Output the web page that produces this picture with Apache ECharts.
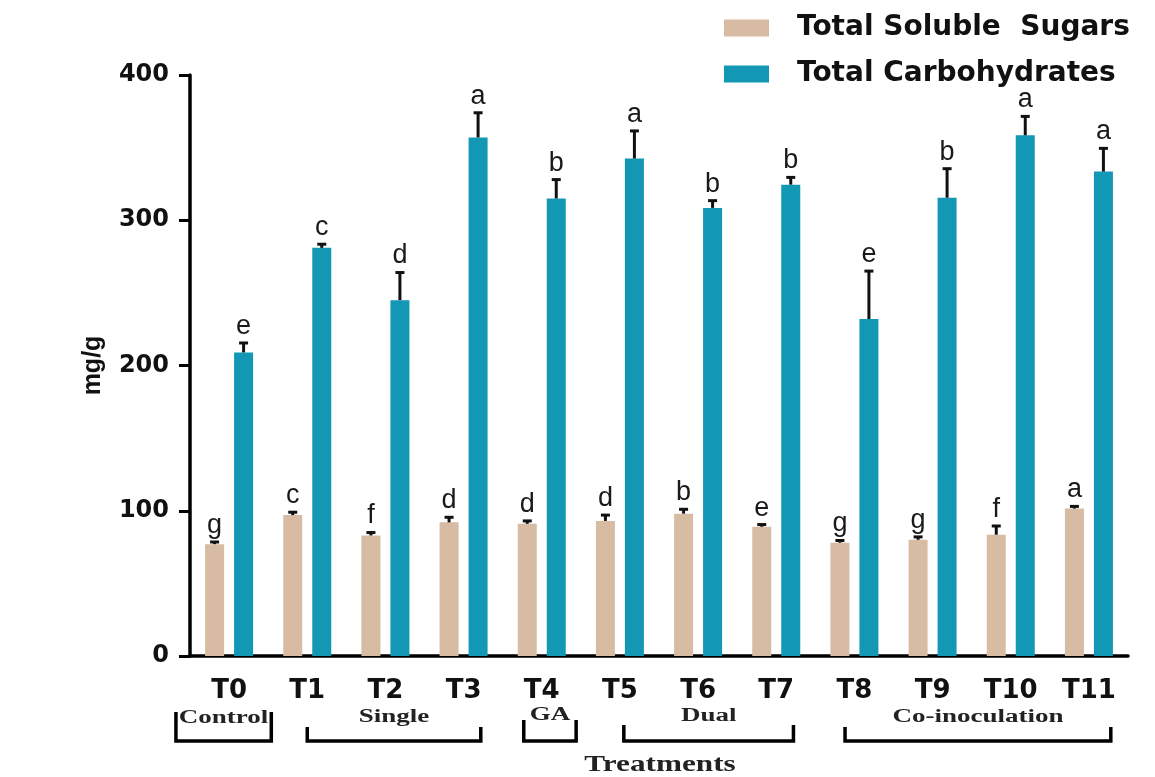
<!DOCTYPE html>
<html>
<head>
<meta charset="utf-8">
<script src="https://cdn.jsdelivr.net/npm/echarts@6/dist/echarts.min.js"></script>
<style>
  html, body { margin: 0; padding: 0; background: #fff; }
  #chart { width: 1155px; height: 777px; }
</style>
</head>
<body>
<div id="chart"></div>
<script>
// Treatments on the x axis
const categories = ['T0', 'T1', 'T2', 'T3', 'T4', 'T5', 'T6', 'T7', 'T8', 'T9', 'T10', 'T11'];

// Total soluble sugars (mg/g), error and significance letters
const sugarValues  = [77, 97, 83, 92, 91, 93, 98, 89, 78, 80, 83.5, 101.5];
const sugarErrors  = [1.5, 2, 2, 3.5, 2, 4, 3, 1.5, 1.5, 2, 6, 1.5];
const sugarLetters = ['g', 'c', 'f', 'd', 'd', 'd', 'b', 'e', 'g', 'g', 'f', 'a'];

// Total carbohydrates (mg/g), error and significance letters
const carbValues  = [209, 281, 245, 357, 315, 342.5, 308.5, 324.5, 232, 315.5, 358.5, 333.5];
const carbErrors  = [6.5, 2.5, 19, 17, 13, 19, 5, 5, 33, 20, 13, 16];
const carbLetters = ['e', 'c', 'd', 'a', 'b', 'a', 'b', 'b', 'e', 'b', 'a', 'a'];

// Treatment groups (first and last category index of each)
const groupNames = ['Control', 'Single', 'GA', 'Dual', 'Co-inoculation'];
const groupFrom  = [0, 1, 4, 5, 8];
const groupTo    = [0, 3, 4, 7, 11];

const yTicks = [0, 100, 200, 300, 400];

const SUGAR_COLOR = '#D8BBA3';
const CARB_COLOR = '#1297B4';
const BAR_W = 19;
const GAP_PX = 10;
const HALF_STEP = (BAR_W + GAP_PX) / 2;

const chart = echarts.init(document.getElementById('chart'));

function errorBarRenderer(offset, letters) {
  return function (params, api) {
    const idx = api.value(0);
    const val = api.value(1);
    const err = api.value(2);
    const base = api.coord([idx, val]);
    const top = api.coord([idx, val + err]);
    const x = base[0] + offset;
    return {
      type: 'group',
      children: [
        { type: 'line', shape: { x1: x, y1: base[1], x2: x, y2: top[1] },
          style: { stroke: '#111', lineWidth: 3 } },
        { type: 'line', shape: { x1: x - 4.5, y1: top[1], x2: x + 4.5, y2: top[1] },
          style: { stroke: '#111', lineWidth: 3 } },
        { type: 'text', x: x, y: top[1] - 3,
          style: { text: letters[params.dataIndex], fill: '#1a1a1a',
                   font: '27px "Liberation Sans", Arial, sans-serif',
                   textAlign: 'center', textVerticalAlign: 'bottom' } }
      ]
    };
  };
}

const sugarErrData = categories.map((c, i) => [i, sugarValues[i], sugarErrors[i]]);
const carbErrData = categories.map((c, i) => [i, carbValues[i], carbErrors[i]]);

chart.setOption({
  animation: false,
  backgroundColor: '#ffffff',
  grid: { left: 190, right: 27, top: 75, bottom: 121, containLabel: false },
  legend: {
    orient: 'vertical',
    left: 724,
    top: 13,
    padding: 0,
    itemWidth: 45,
    itemHeight: 17,
    itemGap: 16,
    icon: 'rect',
    data: ['Total Soluble  Sugars', 'Total Carbohydrates'],
    textStyle: {
      fontFamily: 'DejaVu Sans', fontWeight: 'bold', fontSize: 28,
      color: '#111', lineHeight: 30, padding: [0, 0, 0, 23]
    }
  },
  xAxis: {
    type: 'category',
    data: categories,
    axisLine: { lineStyle: { color: '#000', width: 3.5 } },
    axisTick: { alignWithLabel: true, length: 12, lineStyle: { color: '#000', width: 3 } },
    axisLabel: {
      margin: 22, color: '#111', fontFamily: 'DejaVu Sans',
      fontWeight: 'bold', fontSize: 26, interval: 0
    }
  },
  yAxis: {
    type: 'value',
    min: yTicks[0],
    max: yTicks[yTicks.length - 1],
    interval: yTicks[1] - yTicks[0],
    name: 'mg/g',
    nameLocation: 'middle',
    nameGap: 84,
    nameTextStyle: {
      fontFamily: 'Liberation Sans', fontWeight: 'bold', fontSize: 25, color: '#111'
    },
    axisLine: { show: true, lineStyle: { color: '#000', width: 3.5 } },
    axisTick: { show: true, length: 11, lineStyle: { color: '#000', width: 3 } },
    splitLine: { show: false },
    axisLabel: {
      margin: 21, color: '#111', fontFamily: 'DejaVu Sans',
      fontWeight: 'bold', fontSize: 24
    }
  },
  series: [
    {
      name: 'Total Soluble  Sugars',
      type: 'bar',
      data: sugarValues,
      barWidth: BAR_W,
      barGap: (GAP_PX / BAR_W * 100) + '%',
      itemStyle: { color: SUGAR_COLOR }
    },
    {
      name: 'Total Carbohydrates',
      type: 'bar',
      data: carbValues,
      barWidth: BAR_W,
      barGap: (GAP_PX / BAR_W * 100) + '%',
      itemStyle: { color: CARB_COLOR }
    },
    {
      type: 'custom',
      z: 5,
      renderItem: errorBarRenderer(-HALF_STEP, sugarLetters),
      data: sugarErrData,
      encode: { x: 0, y: 1 }
    },
    {
      type: 'custom',
      z: 5,
      renderItem: errorBarRenderer(HALF_STEP, carbLetters),
      data: carbErrData,
      encode: { x: 0, y: 1 }
    }
  ]
});

// Group brackets under the category labels
const bracketLayout = [
  { l: -0.68, r: 0.54, top: 712, text: 718 },
  { l: 0.00,  r: 0.22, top: 727, text: 717 },
  { l: -0.23, r: 0.44, top: 720, text: 715 },
  { l: 0.05,  r: 0.22, top: 725, text: 716 },
  { l: -0.12, r: 0.28, top: 727, text: 717 }
];
const BRACKET_BOTTOM = 741;

function drawGroups() {
  const p0 = chart.convertToPixel({ xAxisIndex: 0 }, 0);
  const p1 = chart.convertToPixel({ xAxisIndex: 0 }, 1);
  const band = p1 - p0;
  const elements = [];
  groupNames.forEach((name, g) => {
    const lay = bracketLayout[g];
    const xl = chart.convertToPixel({ xAxisIndex: 0 }, groupFrom[g]) + lay.l * band;
    const xr = chart.convertToPixel({ xAxisIndex: 0 }, groupTo[g]) + lay.r * band;
    elements.push({
      type: 'polyline',
      shape: { points: [[xl, lay.top], [xl, BRACKET_BOTTOM], [xr, BRACKET_BOTTOM], [xr, lay.top]] },
      style: { stroke: '#000', lineWidth: 3.5, fill: null }
    });
    elements.push({
      type: 'text',
      x: (xl + xr) / 2,
      y: lay.text,
      scaleX: 1.5,
      style: {
        text: name, fill: '#222', font: 'bold 18px "Liberation Serif", serif',
        textAlign: 'center', textVerticalAlign: 'middle'
      }
    });
  });
  elements.push({
    type: 'text',
    x: 660,
    y: 765,
    scaleX: 1.3,
    style: {
      text: 'Treatments', fill: '#222', font: 'bold 24px "Liberation Serif", serif',
      textAlign: 'center', textVerticalAlign: 'middle'
    }
  });
  chart.setOption({ graphic: { elements: elements } });
}
drawGroups();
</script>
</body>
</html>
